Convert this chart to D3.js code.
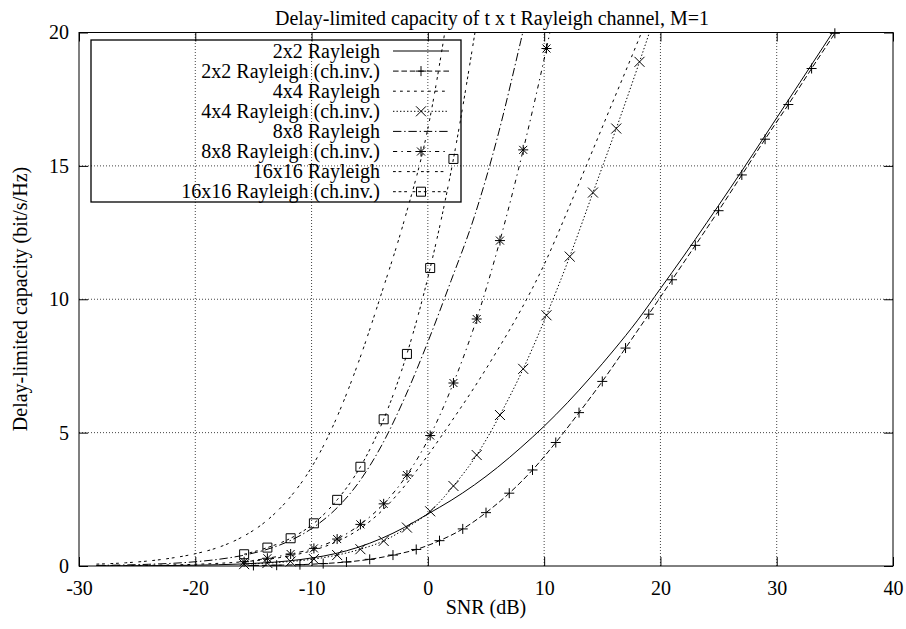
<!DOCTYPE html>
<html>
<head>
<meta charset="utf-8">
<script src="https://cdn.jsdelivr.net/npm/d3@7"></script>
<style>
body { margin: 0; background: #fff; }
svg text { font-family: "Liberation Serif", "DejaVu Serif", serif; fill: #000; }
</style>
</head>
<body>
<svg id="chart" width="906" height="629" font-family="Liberation Serif"></svg>
<script>
var titleText = "Delay-limited capacity of t x t Rayleigh channel, M=1";
var xLabel = "SNR (dB)", yLabel = "Delay-limited capacity (bit/s/Hz)";
var xTicks = [-30, -20, -10, 0, 10, 20, 30, 40];
var yTicks = [0, 5, 10, 15, 20];

// SNR grid for the plain curves (dB)
var snrGrid = [-28.5, -26, -24, -22, -20, -18, -16, -14, -12, -10, -8, -6, -4, -2, 0, 2, 4, 6, 8, 10,
               12, 14, 16, 18, 20, 22, 24, 26, 28, 30, 32, 34, 36];
var cap2 = [0.004, 0.0075, 0.012, 0.019, 0.03, 0.048, 0.075, 0.12, 0.19, 0.3, 0.46, 0.7, 1.03, 1.45, 1.95, 2.46, 3.04, 3.7, 4.44, 5.24,
            6.12, 7.08, 8.1, 9.19, 10.4, 11.62, 12.88, 14.16, 15.47, 16.8, 18.13, 19.46, 20.8];
var cap4 = [0.01, 0.017, 0.026, 0.041, 0.064, 0.1, 0.155, 0.24, 0.37, 0.57, 0.88, 1.35, 2.05, 3.0, 4.15, 5.4, 6.7, 8.1, 9.6, 11.3,
            13.3, 15.4, 17.5, 19.6, 21.8];
var cap8 = [0.022, 0.04, 0.065, 0.1, 0.16, 0.25, 0.39, 0.6, 0.92, 1.4, 2.1, 3.1, 4.5, 6.3, 8.4, 10.7, 13.1, 16.1, 19.7, 23.5];
var cap16 = [0.07, 0.12, 0.19, 0.3, 0.46, 0.7, 1.08, 1.65, 2.5, 3.7, 5.4, 7.6, 10.2, 13.0, 16.4, 21.5];

// channel inversion curves, one point per marker
var snrInv2 = [-15, -13, -11, -9, -7, -5, -3, -1, 1, 3, 5, 7, 9, 11, 13, 15, 17, 19, 21, 23, 25, 27, 29, 31, 33, 35, 37];
var capInv2 = [0.02, 0.03, 0.05, 0.09, 0.15, 0.25, 0.41, 0.62, 0.95, 1.39, 2.0, 2.73, 3.6, 4.63, 5.75, 6.92, 8.17, 9.44,
               10.73, 12.02, 13.32, 14.66, 16.0, 17.3, 18.65, 19.97, 21.3];
var snrInv = [-15.8, -13.8, -11.8, -9.8, -7.8, -5.8, -3.8, -1.8, 0.2, 2.2, 4.2, 6.2, 8.2, 10.2, 12.2, 14.2, 16.2, 18.2, 20.2];
var capInv4 = [0.07, 0.11, 0.17, 0.26, 0.41, 0.63, 0.94, 1.44, 2.05, 3.0, 4.16, 5.66, 7.39, 9.4, 11.6, 14.0, 16.4, 18.9, 21.5];
var capInv8 = [0.16, 0.29, 0.45, 0.66, 1.01, 1.56, 2.33, 3.41, 4.89, 6.86, 9.26, 12.2, 15.6, 19.4, 23.6];
var capInv16 = [0.44, 0.69, 1.04, 1.6, 2.48, 3.72, 5.5, 7.95, 11.17, 15.26, 20.4];

var seriesNames = ["2x2 Rayleigh", "2x2 Rayleigh (ch.inv.)", "4x4 Rayleigh", "4x4 Rayleigh (ch.inv.)",
                   "8x8 Rayleigh", "8x8 Rayleigh (ch.inv.)", "16x16 Rayleigh", "16x16 Rayleigh (ch.inv.)"];

var dl = 1.4;
function dash(a) { return a.length ? a.map(function(v) { return v * dl; }).join(",") : null; }

var series = [
    {xs: snrGrid, ys: cap2, dash: dash([]), mark: null},
    {xs: snrInv2, ys: capInv2, dash: dash([4, 2]), mark: "plus"},
    {xs: snrGrid, ys: cap4, dash: dash([2, 3]), mark: null},
    {xs: snrInv, ys: capInv4, dash: dash([1, 1.5]), mark: "cross"},
    {xs: snrGrid, ys: cap8, dash: dash([6, 2, 1, 2]), mark: null},
    {xs: snrInv, ys: capInv8, dash: dash([3, 3, 1, 3]), mark: "star"},
    {xs: snrGrid, ys: cap16, dash: dash([2, 2, 2, 4]), mark: null},
    {xs: snrInv, ys: capInv16, dash: dash([2, 2, 2, 2, 2, 4]), mark: "box"}
];

var x = d3.scaleLinear().domain([-30, 40]).range([79, 893]);
var y = d3.scaleLinear().domain([0, 20]).range([566, 32.5]);
var serif = "Liberation Serif, DejaVu Serif, serif";

var svg = d3.select("#chart");

svg.append("clipPath").attr("id", "plotclip")
    .append("rect")
    .attr("x", x(-30)).attr("y", y(20))
    .attr("width", x(40) - x(-30)).attr("height", y(0) - y(20));

// grid
var grid = svg.append("g").attr("stroke", "#444").attr("stroke-width", 1).attr("stroke-dasharray", "1,2");
xTicks.slice(1, -1).forEach(function(t) {
    grid.append("line").attr("x1", x(t)).attr("x2", x(t)).attr("y1", y(0)).attr("y2", y(20));
});
yTicks.slice(1, -1).forEach(function(t) {
    grid.append("line").attr("x1", x(-30)).attr("x2", x(40)).attr("y1", y(t)).attr("y2", y(t));
});

// axes, gnuplot style ticks pointing in
function plain(d) { return String(d); }
function styleAxis(g, labels) {
    g.attr("font-family", serif);
    g.select(".domain").remove();
    g.selectAll(".tick line").attr("stroke", "#000");
    g.selectAll(".tick text").attr("font-size", 20).attr("fill", "#000").attr("font-family", serif);
    if (!labels) g.selectAll(".tick text").remove();
}
svg.append("g").attr("transform", "translate(0," + y(0) + ")")
    .call(d3.axisBottom(x).tickValues(xTicks).tickFormat(plain).tickSizeInner(-9).tickSizeOuter(0).tickPadding(15))
    .call(styleAxis, true);
svg.append("g").attr("transform", "translate(0," + y(20) + ")")
    .call(d3.axisTop(x).tickValues(xTicks).tickSizeInner(-9).tickSizeOuter(0))
    .call(styleAxis, false);
svg.append("g").attr("transform", "translate(" + x(-30) + ",0)")
    .call(d3.axisLeft(y).tickValues(yTicks).tickFormat(plain).tickSizeInner(-9).tickSizeOuter(0).tickPadding(10))
    .call(styleAxis, true);
svg.append("g").attr("transform", "translate(" + x(40) + ",0)")
    .call(d3.axisRight(y).tickValues(yTicks).tickSizeInner(-9).tickSizeOuter(0))
    .call(styleAxis, false);

svg.append("rect")
    .attr("x", x(-30)).attr("y", y(20))
    .attr("width", x(40) - x(-30)).attr("height", y(0) - y(20))
    .attr("fill", "none").attr("stroke", "#000").attr("stroke-width", 1);

// markers
function markPath(kind) {
    if (kind === "plus") return "M-5,0H5M0,-5V5";
    if (kind === "cross") return "M-5,-5L5,5M-5,5L5,-5";
    if (kind === "star") return "M-5,0H5M0,-5V5M-4,-4L4,4M-4,4L4,-4";
    if (kind === "box") return "M-4.5,-4.5H4.5V4.5H-4.5Z";
    return "";
}

var line = d3.line()
    .x(function(d) { return x(d[0]); })
    .y(function(d) { return y(d[1]); })
    .curve(d3.curveMonotoneX);

var plot = svg.append("g");
series.forEach(function(s) {
    var pts = s.xs.slice(0, s.ys.length).map(function(v, i) { return [v, s.ys[i]]; });
    plot.append("path")
        .attr("clip-path", "url(#plotclip)")
        .attr("d", line(pts))
        .attr("fill", "none").attr("stroke", "#000").attr("stroke-width", 1)
        .attr("stroke-dasharray", s.dash);
    if (s.mark) {
        plot.selectAll(null)
            .data(pts.filter(function(p) { return p[1] <= 20 && p[0] <= 40; }))
            .enter().append("path")
            .attr("transform", function(p) { return "translate(" + x(p[0]) + "," + y(p[1]) + ")"; })
            .attr("d", markPath(s.mark))
            .attr("fill", "none").attr("stroke", "#000").attr("stroke-width", 1);
    }
});

// legend
var key = svg.append("g");
key.append("rect").attr("x", 91).attr("y", 40).attr("width", 370).attr("height", 162)
    .attr("fill", "none").attr("stroke", "#000").attr("stroke-width", 1.3);
series.forEach(function(s, i) {
    var ry = 51 + i * 20.1;
    key.append("text").attr("x", 380).attr("y", ry).attr("dy", "0.33em")
        .attr("text-anchor", "end").attr("font-size", 20).attr("font-family", serif).text(seriesNames[i]);
    key.append("line").attr("x1", 393).attr("x2", 449).attr("y1", ry).attr("y2", ry)
        .attr("stroke", "#000").attr("stroke-width", 1).attr("stroke-dasharray", s.dash);
    if (s.mark) {
        key.append("path").attr("transform", "translate(421," + ry + ")")
            .attr("d", markPath(s.mark)).attr("fill", "none").attr("stroke", "#000");
    }
});

// titles
svg.append("text").attr("x", 492).attr("y", 25).attr("text-anchor", "middle")
    .attr("font-size", 20).attr("font-family", serif).text(titleText);
svg.append("text").attr("x", 486).attr("y", 614).attr("text-anchor", "middle")
    .attr("font-size", 20).attr("font-family", serif).text(xLabel);
svg.append("text").attr("transform", "translate(27,299) rotate(-90)").attr("text-anchor", "middle")
    .attr("font-size", 20).attr("font-family", serif).text(yLabel);
</script>
</body>
</html>
